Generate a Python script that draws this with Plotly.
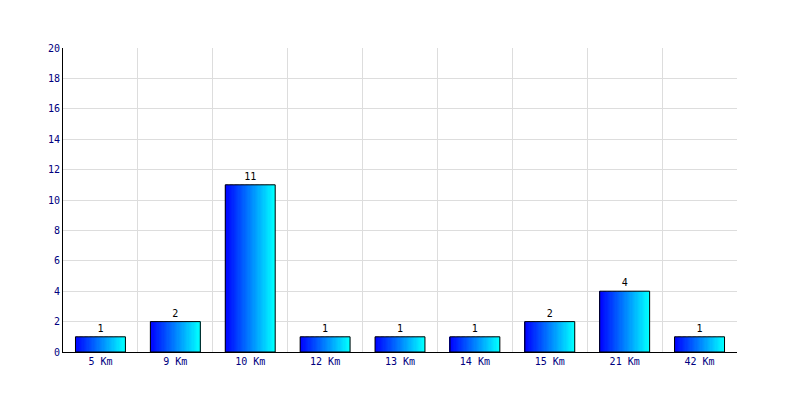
import plotly.graph_objects as go

categories = ["5 Km", "9 Km", "10 Km", "12 Km", "13 Km", "14 Km", "15 Km", "21 Km", "42 Km"]
values = [1, 2, 11, 1, 1, 1, 2, 4, 1]
y_ticks = [0, 2, 4, 6, 8, 10, 12, 14, 16, 18, 20]

BAR_W = 2 / 3
N = 40
fig = go.Figure()
sw = BAR_W / N
for i in range(N):
    t = i / (N - 1)
    g = int(round(255 * t))
    fig.add_trace(go.Bar(
        x=categories, y=values,
        width=sw * 1.05, offset=-BAR_W / 2 + i * sw,
        marker=dict(color=f"rgb(0,{g},255)", line=dict(width=0)),
        hoverinfo="skip", showlegend=False,
    ))

fig.add_trace(go.Bar(
    x=categories, y=values,
    width=BAR_W, offset=-BAR_W / 2,
    marker=dict(color="rgba(0,0,0,0)", line=dict(color="black", width=1)),
    text=[str(v) for v in values], textposition="outside",
    textfont=dict(family="DejaVu Sans Mono", size=10, color="black"),
    cliponaxis=False, showlegend=False,
))

fig.update_layout(
    width=800, height=400,
    margin=dict(l=63, r=63, t=48, b=48),
    paper_bgcolor="white", plot_bgcolor="white",
    barmode="overlay",
    font=dict(family="DejaVu Sans Mono", size=10, color="#000080"),
    xaxis=dict(
        type="category", range=[-0.5, len(categories) - 0.5],
        tickson="boundaries", showgrid=True, gridcolor="#dddddd", gridwidth=1,
        showline=True, linecolor="black", linewidth=1, ticks="",
        tickfont=dict(family="DejaVu Sans Mono", size=10, color="#000080"),
        zeroline=False,
    ),
    yaxis=dict(
        range=[0, 20], tickvals=y_ticks, showgrid=True, gridcolor="#dddddd",
        showline=True, linecolor="black", linewidth=1, ticks="",
        tickfont=dict(family="DejaVu Sans Mono", size=10, color="#000080"),
        zeroline=False,
    ),
)
fig.write_html("out.html", config={"displayModeBar": False},
               post_script="document.body.style.margin='0';")
